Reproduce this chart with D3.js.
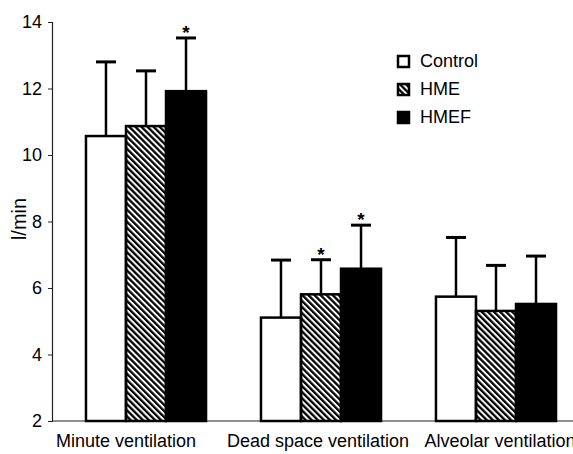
<!DOCTYPE html>
<html>
<head>
<meta charset="utf-8">
<script src="https://cdn.jsdelivr.net/npm/d3@7"></script>
<style>
  html, body { margin: 0; padding: 0; background: #fff; }
  svg { display: block; font-family: "Liberation Sans", Arial, Helvetica, sans-serif; }
</style>
</head>
<body>
<div id="chart"></div>
<script>
// chart data
const categories = ["Minute ventilation", "Dead space ventilation", "Alveolar ventilation"];
const seriesNames = ["Control", "HME", "HMEF"];
const means = [
  [10.57, 10.87, 11.92],
  [5.11, 5.81, 6.58],
  [5.74, 5.31, 5.52]
];
const errTops = [
  [12.8, 12.53, 13.52],
  [6.84, 6.85, 7.89],
  [7.52, 6.68, 6.96]
];
const significant = [
  [false, false, true],
  [false, true, true],
  [false, false, false]
];
const yTicks = [2, 4, 6, 8, 10, 12, 14];

(function() {
  const width = 573, height = 454;

  const svg = d3.select("#chart").append("svg")
    .attr("width", width)
    .attr("height", height);

  // hatch pattern for HME
  const defs = svg.append("defs");
  defs.append("pattern")
    .attr("id", "hatch")
    .attr("patternUnits", "userSpaceOnUse")
    .attr("width", 4.3)
    .attr("height", 10)
    .attr("patternTransform", "rotate(-45)")
    .append("rect")
    .attr("x", 0).attr("y", 0)
    .attr("width", 2.3).attr("height", 10)
    .attr("fill", "#000");

  const fills = ["#fff", "url(#hatch)", "#000"];

  // scales
  const y = d3.scaleLinear().domain([2, 14]).range([421, 22]);
  const x0 = d3.scaleBand().domain(categories)
    .range([58.5, 583.5])
    .paddingInner(0.314)
    .paddingOuter(0.157);
  const x1 = d3.scaleBand().domain(seriesNames)
    .range([0, x0.bandwidth()]);

  // axes
  const axisLeft = d3.axisLeft(y).tickValues(yTicks).tickSize(4).tickPadding(6);
  const gy = svg.append("g")
    .attr("transform", "translate(52,0)")
    .call(axisLeft);
  gy.select(".domain").attr("stroke", "#222").attr("stroke-width", 1.2);
  gy.selectAll(".tick line").attr("stroke", "#222");
  gy.selectAll(".tick text")
    .attr("font-size", 18)
    .attr("font-family", "Liberation Sans, Arial, sans-serif")
    .attr("fill", "#000");

  svg.append("line")
    .attr("x1", 52).attr("x2", width)
    .attr("y1", y(2)).attr("y2", y(2))
    .attr("stroke", "#222").attr("stroke-width", 1.2);

  // y label
  svg.append("text")
    .attr("transform", "translate(26," + 219 + ") rotate(-90)")
    .attr("text-anchor", "middle")
    .attr("font-size", 20)
    .text("l/min");

  // category labels
  const labelDx = [-20, -3, 4];
  svg.selectAll(".cat")
    .data(categories)
    .enter().append("text")
    .attr("class", "cat")
    .attr("x", (d, i) => x0(d) + x0.bandwidth() / 2 + labelDx[i])
    .attr("y", 447)
    .attr("text-anchor", "middle")
    .attr("font-size", 18)
    .text(d => d);

  // bars
  const groups = svg.selectAll(".grp")
    .data(categories)
    .enter().append("g")
    .attr("class", "grp")
    .attr("transform", d => "translate(" + x0(d) + ",0)");

  groups.each(function(cat, gi) {
    const g = d3.select(this);
    const rows = seriesNames.map((s, si) => ({
      s, si, mean: means[gi][si], top: errTops[gi][si], sig: significant[gi][si]
    }));

    // error bars (drawn under bars)
    g.selectAll(".err")
      .data(rows)
      .enter().append("line")
      .attr("x1", d => x1(d.s) + x1.bandwidth() / 2)
      .attr("x2", d => x1(d.s) + x1.bandwidth() / 2)
      .attr("y1", d => y(d.mean))
      .attr("y2", d => y(d.top))
      .attr("stroke", "#000")
      .attr("stroke-width", 2.5);

    g.selectAll(".cap")
      .data(rows)
      .enter().append("line")
      .attr("x1", d => x1(d.s) + x1.bandwidth() / 2 - 10)
      .attr("x2", d => x1(d.s) + x1.bandwidth() / 2 + 10)
      .attr("y1", d => y(d.top))
      .attr("y2", d => y(d.top))
      .attr("stroke", "#000")
      .attr("stroke-width", 3);

    g.selectAll(".bar")
      .data(rows)
      .enter().append("rect")
      .attr("x", d => x1(d.s))
      .attr("y", d => y(d.mean))
      .attr("width", x1.bandwidth())
      .attr("height", d => y(2) - y(d.mean))
      .attr("fill", d => fills[d.si])
      .attr("stroke", "#000")
      .attr("stroke-width", 2.5);

    g.selectAll(".star")
      .data(rows.filter(d => d.sig))
      .enter().append("text")
      .attr("x", d => x1(d.s) + x1.bandwidth() / 2)
      .attr("y", d => y(d.top) + 1)
      .attr("text-anchor", "middle")
      .attr("font-size", 19)
      .attr("font-weight", "bold")
      .text("*");
  });

  // legend
  const legend = svg.append("g").attr("transform", "translate(398,56)");
  const items = legend.selectAll("g")
    .data(seriesNames)
    .enter().append("g")
    .attr("transform", (d, i) => "translate(0," + i * 28 + ")");
  items.append("rect")
    .attr("x", 0).attr("y", 0)
    .attr("width", 11).attr("height", 11)
    .attr("fill", (d, i) => fills[i])
    .attr("stroke", "#000")
    .attr("stroke-width", 2.5);
  items.append("text")
    .attr("x", 22).attr("y", 11)
    .attr("font-size", 18)
    .text(d => d);
})();
</script>
</body>
</html>
